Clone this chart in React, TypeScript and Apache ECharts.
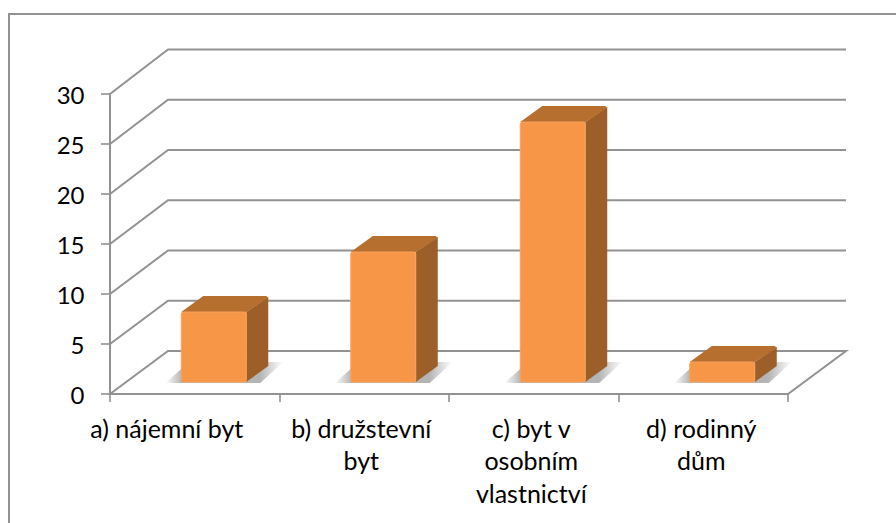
import React, { useEffect, useRef } from "react";
import * as echarts from "echarts";

const categories = ["a) nájemní byt", "b) družstevní\nbyt", "c) byt v\nosobním\nvlastnictví", "d) rodinný\ndům"];
const labelShiftsRight = [56, 6, 5, 4];
const values = [7, 13, 26, 2];
const yTicks = [0, 5, 10, 15, 20, 25, 30];

const GREY = "#929292";
const FONT = "Lato, 'Open Sans', sans-serif";
const WALL_DX = 58;
const wallDy = (v: number) => 43 + v * 0.05;
const BAR_SHIFT_X = 19;
const BAR_SHIFT_Y = 12;
const BAR_DX = 22;
const BAR_DY = 16;
const BAR_W = 65;

export default function App() {
  const ref = useRef<HTMLDivElement>(null);
  useEffect(() => {
    const chart = echarts.init(ref.current!, undefined, { renderer: "svg" });
    chart.setOption({
      animation: false,
      backgroundColor: "#ffffff",
      graphic: [
        {
          type: "polyline",
          silent: true,
          shape: { points: [[9, 523], [9, 14], [896, 14]] },
          style: { stroke: "#929292", lineWidth: 2, fill: "none" },
        },
      ],
      grid: { left: 110, top: 94, width: 678, height: 300 },
      xAxis: {
        type: "category",
        data: categories.map((value, i) => ({
          value,
          textStyle: { padding: [0, labelShiftsRight[i], 0, 0] },
        })),
        boundaryGap: true,
        axisLine: { show: true, lineStyle: { color: GREY, width: 2 } },
        axisTick: { show: true, length: 8, alignWithLabel: false, lineStyle: { color: GREY, width: 1.6 } },
        axisLabel: { interval: 0, margin: 17.5, color: "#000", fontFamily: FONT, fontSize: 25, lineHeight: 32.5 },
        splitLine: { show: false },
      },
      yAxis: {
        type: "value",
        min: 0,
        max: 30,
        interval: 5,
        axisLine: { show: true, lineStyle: { color: GREY, width: 2 } },
        axisTick: { show: true, length: 9, lineStyle: { color: GREY, width: 1.6 } },
        axisLabel: { margin: 25.5, color: "#000", fontFamily: FONT, fontSize: 24 },
        splitLine: { show: false },
      },
      series: [
        {
          type: "custom",
          silent: true,
          z: 1,
          clip: false,
          data: yTicks.map((t) => [0, t]),
          renderItem: (params: any, api: any) => {
            const v = api.value(1);
            const sys = params.coordSys;
            const y = api.coord([0, v])[1];
            const by = y - wallDy(v);
            const left = sys.x;
            const right = sys.x + sys.width;
            const children: any[] = [];
            if (v === 0) {
              children.push({
                type: "polygon",
                shape: { points: [[left, y], [left + WALL_DX, by], [right + WALL_DX, by], [right, y]] },
                style: { fill: "#ffffff", stroke: GREY, lineWidth: 2 },
              });
            } else {
              children.push({
                type: "polyline",
                shape: { points: [[left, y], [left + WALL_DX, by], [right + WALL_DX, by]] },
                style: { fill: "none", stroke: GREY, lineWidth: 2 },
              });
            }
            return { type: "group", children };
          },
        },
        {
          type: "custom",
          silent: true,
          z: 2,
          clip: false,
          data: values.map((v, i) => [i, v]),
          renderItem: (_params: any, api: any) => {
            const [cx, top0] = api.coord([api.value(0), api.value(1)]);
            const base0 = api.coord([api.value(0), 0])[1];
            const x = cx + BAR_SHIFT_X - BAR_W / 2;
            const r = x + BAR_W;
            const top = top0 - BAR_SHIFT_Y;
            const base = base0 - BAR_SHIFT_Y;
            const shadow = {
              type: "polygon",
              shape: {
                points: [[x - 16, base + 1], [r + 14, base + 1], [r + 37, base - 20], [x + 8, base - 20]],
              },
              style: {
                fill: {
                  type: "linear", x: 0, y: 0, x2: 1, y2: 0,
                  colorStops: [
                    { offset: 0, color: "rgba(130,130,130,0)" },
                    { offset: 0.14, color: "rgba(130,130,130,0.6)" },
                    { offset: 0.8, color: "rgba(130,130,130,0.6)" },
                    { offset: 1, color: "rgba(130,130,130,0)" },
                  ],
                },
              },
            };
            const side = {
              type: "polygon",
              shape: {
                points: [[r, base], [r, top], [r + BAR_DX, top - BAR_DY + 1], [r + BAR_DX, base - BAR_DY]],
              },
              style: { fill: "#9c5f2a" },
            };
            const topFace = {
              type: "polygon",
              shape: {
                points: [
                  [x, top], [x + BAR_DX, top - BAR_DY], [r + BAR_DX - 2, top - BAR_DY],
                  [r + BAR_DX, top - BAR_DY + 2], [r, top],
                ],
              },
              style: { fill: "#b76f30" },
            };
            const front = {
              type: "rect",
              shape: { x, y: top, width: BAR_W, height: base - top, r: 2 },
              style: { fill: "#f79646", stroke: "#f9a25c", lineWidth: 1 },
            };
            return { type: "group", children: [shadow, side, topFace, front] };
          },
        },
      ],
    });
    return () => chart.dispose();
  }, []);
  return <div ref={ref} style={{ position: "absolute", left: 0, top: 0, width: 896, height: 523 }} />;
}
